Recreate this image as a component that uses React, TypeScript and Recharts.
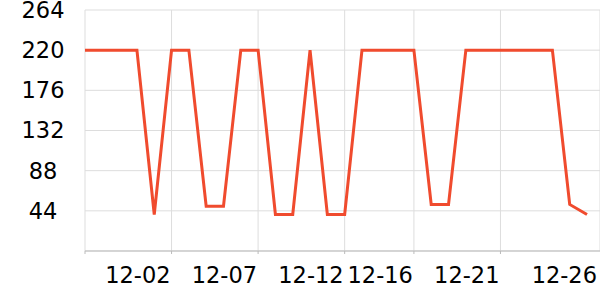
import React from 'react';
import { LineChart, Line, XAxis, YAxis, CartesianGrid } from 'recharts';

const dates = [
  '11-27', '11-28', '11-29', '11-30', '12-01', '12-02', '12-03', '12-04', '12-05', '12-06',
  '12-07', '12-08', '12-09', '12-10', '12-11', '12-12', '12-13', '12-14', '12-15', '12-16',
  '12-17', '12-18', '12-19', '12-20', '12-21', '12-22', '12-23', '12-24', '12-25', '12-26',
];
const prices = [
  220, 220, 220, 220, 40, 220, 220, 49, 49, 220,
  220, 40, 40, 220, 40, 40, 220, 220, 220, 220,
  51, 51, 220, 220, 220, 220, 220, 220, 51, 40,
];
// grid / tick marks sit one step before the date they label
const gridTicks = [0, 5, 10, 15, 19, 24];
const labelTicks = [5, 10, 15, 19, 24, 29];
const yTicks = [44, 88, 132, 176, 220, 264];

const data = prices.map((price, i) => ({ i, date: dates[i], price }));

const W = 600;
const H = 300;
const Y_W = 85;
const X_MAX = 29.75;
const unit = (W - Y_W) / X_MAX;
const font = { fontFamily: '"DejaVu Sans", sans-serif', fontSize: 22.5, fill: '#000' };

const XTick = (props: any) => {
  const { x, y, payload, index } = props;
  const target = labelTicks[index];
  const last = index === labelTicks.length - 1;
  const tx = x + (target - payload.value) * unit - 1 + (last ? 11 : 0);
  return (
    <text x={tx} y={y + 27} textAnchor="end" {...font}>
      {dates[target]}
    </text>
  );
};

const YTick = (props: any) => {
  const { y, payload } = props;
  return (
    <text x={43} y={y} dy="0.355em" textAnchor="middle" {...font}>
      {payload.value}
    </text>
  );
};

export default function App() {
  return (
    <div style={{ position: 'absolute', left: 0, top: 0, width: W, height: H, background: '#fff' }}>
      <LineChart width={W} height={H} data={data} margin={{ top: 10, right: 0, bottom: 0, left: 0 }}>
        <CartesianGrid stroke="#ddd" />
        <XAxis
          dataKey="i"
          type="number"
          domain={[0, X_MAX]}
          ticks={gridTicks}
          interval={0}
          height={49}
          stroke="#bbb"
          tickSize={3}
          tick={<XTick />}
        />
        <YAxis
          domain={[0, 264]}
          ticks={yTicks}
          interval={0}
          width={Y_W}
          axisLine={false}
          tickLine={false}
          tick={<YTick />}
        />
        <Line
          type="linear"
          dataKey="price"
          stroke="#f04b2e"
          strokeWidth={3}
          dot={false}
          isAnimationActive={false}
        />
      </LineChart>
    </div>
  );
}
